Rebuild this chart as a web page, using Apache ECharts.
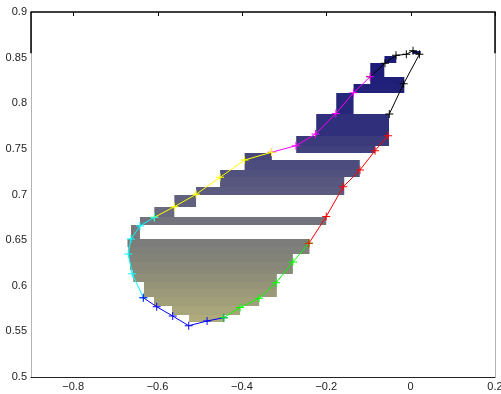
<!DOCTYPE html>
<html>
<head>
<meta charset="utf-8">
<script src="https://cdn.jsdelivr.net/npm/echarts@6/dist/echarts.min.js"></script>
<style>html,body{margin:0;padding:0;background:#fff}#c{width:501px;height:394px}</style>
</head>
<body>
<div id="c"></div>
<script>
// ---- data ----
const xTicks = [-0.8, -0.6, -0.4, -0.2, 0, 0.2];
const yMin = 0.5, yMax = 0.9, yStep = 0.05;
const xMin = -0.9, xMax = 0.2;

// horizontal bars: x range [barX0, barX1], y range [barY0, barY1]
const barX0 = [0.004, -0.062, -0.0957, -0.0957, -0.1353, -0.1764, -0.2239, -0.2713, -0.2713, -0.3936, -0.3936, -0.4518, -0.4518, -0.5087, -0.5602, -0.6077, -0.6417, -0.6630,
  -0.6713, -0.6694, -0.6678, -0.6654, -0.6590, -0.6576, -0.6322, -0.6322, -0.6084, -0.5657, -0.5253];
const barX1 = [0.024, -0.034, -0.0624, -0.015, -0.015, -0.1353, -0.0513, -0.0513, -0.0838, -0.3290, -0.1206, -0.1206, -0.1574, -0.1574, -0.5087, -0.5602, -0.2001, -0.6417,
  -0.2398, -0.2398, -0.2792, -0.2792, -0.2792, -0.3172, -0.3172, -0.3172, -0.3592, -0.4043, -0.4423];
const barY0 = [0.8536, 0.8438, 0.8291, 0.8211, 0.8116, 0.7877, 0.7644, 0.7529, 0.7460, 0.7378, 0.7268, 0.7195, 0.7085, 0.6995, 0.6866, 0.6757, 0.6666, 0.6509,
  0.6425, 0.6348, 0.6260, 0.6173, 0.6129, 0.6041, 0.5959, 0.5880, 0.5778, 0.5681, 0.5606];
const barY1 = [0.8576, 0.8523, 0.8438, 0.8291, 0.8211, 0.8116, 0.7877, 0.7644, 0.7529, 0.7460, 0.7378, 0.7268, 0.7195, 0.7085, 0.6995, 0.6866, 0.6757, 0.6666,
  0.6509, 0.6425, 0.6348, 0.6260, 0.6173, 0.6129, 0.6041, 0.5959, 0.5880, 0.5778, 0.5681];

// boundary curve, in coloured pieces
const blackX = [-0.0506, -0.0166, 0.0207, 0.0057, -0.0102, -0.0347, -0.0608, -0.0957];
const blackY = [0.7882, 0.8214, 0.8536, 0.8576, 0.8536, 0.8525, 0.8438, 0.8291];
const magentaX = [-0.0957, -0.1353, -0.1773, -0.2255, -0.2720, -0.3300];
const magentaY = [0.8291, 0.8116, 0.7888, 0.7663, 0.7535, 0.7462];
const yellowX = [-0.3300, -0.3936, -0.4518, -0.5087, -0.5602, -0.6077];
const yellowY = [0.7462, 0.7378, 0.7188, 0.7002, 0.6866, 0.6750];
const cyanX = [-0.6077, -0.6417, -0.6630, -0.6694, -0.6600, -0.6338];
const cyanY = [0.6750, 0.6655, 0.6512, 0.6348, 0.6132, 0.5869];
const blueX = [-0.6338, -0.6020, -0.5640, -0.5261, -0.4826, -0.4430];
const blueY = [0.5869, 0.5770, 0.5668, 0.5562, 0.5614, 0.5650];
const greenX = [-0.4430, -0.4043, -0.3592, -0.3188, -0.2792, -0.2412];
const greenY = [0.5650, 0.5762, 0.5862, 0.6033, 0.6260, 0.6465];
const redX = [-0.2412, -0.2001, -0.1598, -0.1201, -0.0845, -0.0537];
const redY = [0.6465, 0.6759, 0.7085, 0.7268, 0.7480, 0.7644];

const frameBlackY = [0.8547, 0.9];

// ---- styles ----
const colorStops = [
  [0.857, [26, 26, 120]], [0.82, [32, 32, 122]], [0.78, [44, 44, 124]], [0.755, [62, 62, 124]],
  [0.735, [74, 74, 126]], [0.71, [88, 88, 127]], [0.69, [98, 98, 127]], [0.67, [116, 116, 126]],
  [0.645, [125, 125, 122]], [0.615, [139, 138, 121]], [0.59, [156, 154, 121]], [0.56, [178, 174, 123]]
];
function colorAt(y) {
  if (y >= colorStops[0][0]) return 'rgb(' + colorStops[0][1].join(',') + ')';
  for (let i = 1; i < colorStops.length; i++) {
    const a = colorStops[i - 1], b = colorStops[i];
    if (y >= b[0]) {
      const t = (a[0] - y) / (a[0] - b[0]);
      const c = a[1].map((v, k) => Math.round(v + (b[1][k] - v) * t));
      return 'rgb(' + c.join(',') + ')';
    }
  }
  return 'rgb(' + colorStops[colorStops.length - 1][1].join(',') + ')';
}
const plus = 'path://M4.4,0H5.6V4.4H10V5.6H5.6V10H4.4V5.6H0V4.4H4.4Z';
const font = 'Liberation Sans';
const minus = v => String(v).replace('-', '\u2212');
const tickLen = 4;

const barData = barX0.map((x0, i) => [x0, barX1[i], barY0[i], barY1[i]]);

function seg(name, xs, ys, color) {
  return {
    type: 'line', name: name, data: xs.map((x, i) => [x, ys[i]]),
    lineStyle: { color: color, width: 1 }, itemStyle: { color: color },
    symbol: plus, symbolSize: 8, showSymbol: true, z: 5, animation: false
  };
}

const chart = echarts.init(document.getElementById('c'), null, { renderer: 'canvas' });
chart.setOption({
  backgroundColor: '#fff',
  animation: false,
  grid: { left: 31, right: 6, top: 12, bottom: 17, containLabel: false, outerBoundsMode: 'none' },
  xAxis: [{
    type: 'value', min: xMin, max: xMax, position: 'bottom',
    axisLine: { show: true, onZero: false, lineStyle: { color: '#222', width: 1 } },
    axisTick: { show: false }, splitLine: { show: false },
    axisLabel: { customValues: xTicks, formatter: minus, fontSize: 11, color: '#222', margin: 4, fontFamily: font, hideOverlap: false }
  }, {
    type: 'value', min: xMin, max: xMax, position: 'top',
    axisLine: { show: true, onZero: false, lineStyle: { color: '#000', width: 1.5 } },
    axisTick: { show: false },
    axisLabel: { show: false }, splitLine: { show: false }
  }],
  yAxis: [{
    type: 'value', min: yMin, max: yMax, interval: yStep, position: 'left',
    axisLine: { show: true, onZero: false, lineStyle: { color: '#b4b4b4', width: 1 } },
    axisTick: { show: false }, splitLine: { show: false },
    axisLabel: { fontSize: 11, color: '#222', margin: 4, fontFamily: font }
  }, {
    type: 'value', min: yMin, max: yMax, interval: yStep, position: 'right',
    axisLine: { show: true, onZero: false, lineStyle: { color: '#b4b4b4', width: 1 } },
    axisTick: { show: false }, splitLine: { show: false }, axisLabel: { show: false }
  }],
  series: [{
    type: 'custom', z: 2,
    data: barData,
    renderItem: function (params, api) {
      const x0 = api.value(0), x1 = api.value(1), y0 = api.value(2), y1 = api.value(3);
      const p0 = api.coord([x0, y1]);
      const p1 = api.coord([x1, y0]);
      const top = Math.round(p0[1]), bot = Math.round(p1[1]);
      return {
        type: 'rect',
        shape: { x: p0[0], y: top, width: p1[0] - p0[0], height: bot - top },
        style: { fill: colorAt((y0 + y1) / 2), stroke: null }
      };
    }
  },
  seg('black', blackX, blackY, '#000000'),
  seg('magenta', magentaX, magentaY, '#ff00ff'),
  seg('yellow', yellowX, yellowY, '#ffff00'),
  seg('cyan', cyanX, cyanY, '#00ffff'),
  seg('blue', blueX, blueY, '#0000ff'),
  seg('green', greenX, greenY, '#00ff00'),
  seg('red', redX, redY, '#ff0000'),
  {
    type: 'custom', z: 11, clip: false, silent: true,
    data: xTicks.map(v => [v, yMax]),
    encode: { x: 0, y: 1 },
    renderItem: function (params, api) {
      const p = api.coord([api.value(0), api.value(1)]);
      const x = Math.round(p[0]) + 0.5;
      return {
        type: 'rect',
        shape: { x: x - 0.5, y: p[1], width: 1, height: tickLen },
        style: { fill: '#000' }
      };
    }
  },
  {
    type: 'line', data: frameBlackY.map(y => [xMin, y]), symbol: 'none', clip: false, z: 10,
    lineStyle: { color: '#000', width: 1.5 }
  },
  {
    type: 'line', data: frameBlackY.map(y => [xMax, y]), symbol: 'none', clip: false, z: 10,
    lineStyle: { color: '#000', width: 1.5 }
  }]
});
</script>
</body>
</html>
